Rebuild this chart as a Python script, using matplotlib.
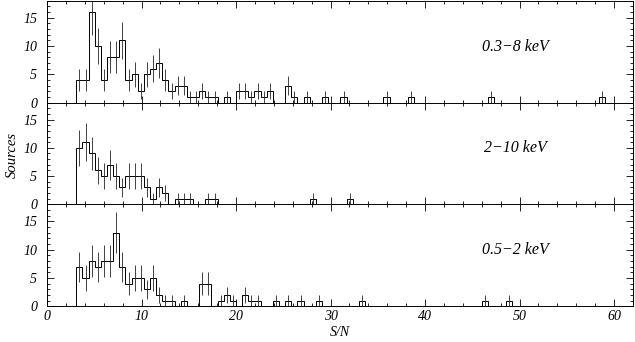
import numpy as np
from matplotlib import pyplot as plt
from matplotlib.ticker import MultipleLocator

# histogram bins in S/N
bin_start = 3.1
bin_width = 0.65

labels = ["0.3\u22128 keV", "2\u221210 keV", "0.5\u22122 keV"]

counts_full = [4, 4, 16, 10, 4, 8, 8, 11, 4, 5, 2, 5, 6, 7, 4, 2, 3, 3, 1, 1,
               2, 1, 1, 0, 1, 0, 2, 2, 1, 2, 1, 2, 0, 0, 3, 1, 0, 1, 0, 0,
               1, 0, 0, 1, 0, 0, 0, 0, 0, 0, 1, 0, 0, 0, 1, 0, 0, 0, 0, 0,
               0, 0, 0, 0, 0, 0, 0, 1, 0, 0, 0, 0, 0, 0, 0, 0, 0, 0, 0, 0,
               0, 0, 0, 0, 0, 1]

counts_hard = [10, 11, 9, 6, 5, 7, 5, 3, 5, 5, 5, 3, 1, 3, 2, 0, 1, 1, 1, 0,
               0, 1, 1, 0, 0, 0, 0, 0, 0, 0, 0, 0, 0, 0, 0, 0, 0, 0, 1, 0,
               0, 0, 0, 0, 1]

counts_soft = [7, 5, 8, 7, 8, 8, 13, 7, 4, 5, 5, 3, 5, 2, 1, 1, 0, 1, 0, 0,
               4, 4, 0, 1, 2, 1, 0, 2, 1, 1, 0, 0, 1, 0, 1, 0, 1, 0, 0, 1,
               0, 0, 0, 0, 0, 0, 1, 0, 0, 0, 0, 0, 0, 0, 0, 0, 0, 0, 0, 0,
               0, 0, 0, 0, 0, 0, 1, 0, 0, 0, 1]

serif = ["Liberation Serif", "DejaVu Serif"]


def dibujar(ax, counts, label, bottom):
    counts = np.array(counts, dtype=float)
    edges = bin_start + bin_width * np.arange(len(counts) + 1)
    centers = 0.5 * (edges[:-1] + edges[1:])
    ax.stairs(counts, edges, baseline=0, color="black", lw=0.7)
    ok = counts > 0
    ax.errorbar(centers[ok], counts[ok], yerr=np.sqrt(counts[ok]),
                fmt="none", ecolor="#222222", elinewidth=0.6, capsize=0)

    ax.set_xlim(0, 62)
    ax.set_ylim(0, 18)
    ax.xaxis.set_major_locator(MultipleLocator(10))
    ax.xaxis.set_minor_locator(MultipleLocator(2))
    ax.yaxis.set_major_locator(MultipleLocator(5))
    ax.yaxis.set_minor_locator(MultipleLocator(1))
    ax.tick_params(which="both", direction="in", top=True, right=True,
                   width=0.6, labelsize=10)
    ax.tick_params(which="major", length=5)
    ax.tick_params(which="minor", length=2.5)
    ax.tick_params(axis="y", pad=7)
    ax.tick_params(axis="x", pad=3, labelbottom=bottom)
    for s in ax.spines.values():
        s.set_linewidth(0.7)
    for t in ax.get_xticklabels() + ax.get_yticklabels():
        t.set_family(serif)
        t.set_style("italic")
    ax.text(49.6, 9.9, label, ha="center", va="center", fontsize=11.5,
            family=serif, style="italic")


def main():
    fig = plt.figure(figsize=(6.35, 3.42), dpi=100)
    left = 47 / 635
    width = (633 - 47) / 635
    b0 = 35.7 / 342
    h = (0.998 - b0) / 3

    ax_top = fig.add_axes([left, b0 + 2 * h, width, h])
    ax_mid = fig.add_axes([left, b0 + h, width, h])
    ax_bot = fig.add_axes([left, b0, width, h])

    dibujar(ax_top, counts_full, labels[0], False)
    dibujar(ax_mid, counts_hard, labels[1], False)
    dibujar(ax_bot, counts_soft, labels[2], True)

    fig.text(340 / 635, 1 - 333 / 342, "S/N", ha="center", va="center",
             fontsize=10, family=serif, style="italic")
    fig.text(12 / 635, 1 - 155 / 342, "Sources", ha="center", va="center",
             rotation=90, fontsize=10.5, family=serif, style="italic")

    fig.savefig("out.png", dpi=100)


if __name__ == "__main__":
    main()
